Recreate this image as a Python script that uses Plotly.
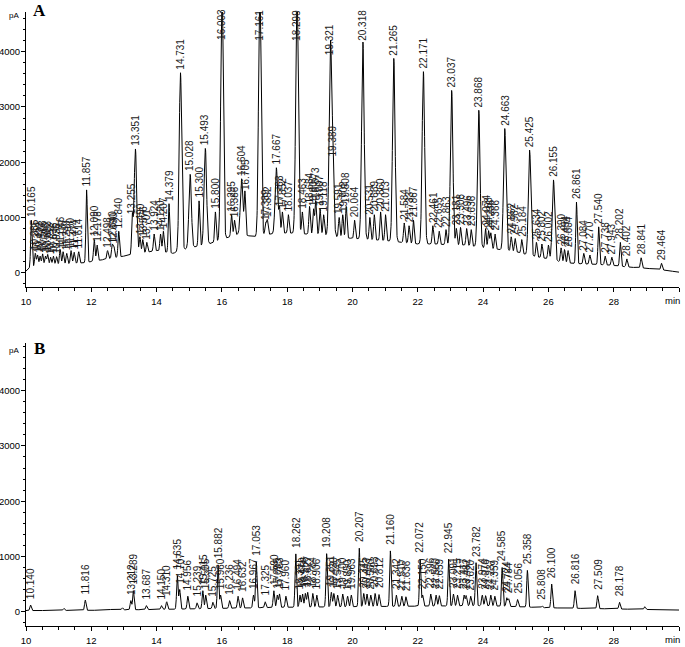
import numpy as np
import plotly.graph_objects as go

# ---------------- data ----------------
# Panel A: labelled peaks (retention time, apex height in pA)
A_times = [10.165, 10.285, 10.354, 10.432, 10.508, 10.596, 10.663, 10.752, 10.838, 10.936,
           11.046, 11.137, 11.249, 11.380, 11.474, 11.614, 11.857, 12.090, 12.178, 12.498,
           12.640, 12.690, 12.840, 13.255, 13.351, 13.490, 13.576, 13.701, 13.924, 14.120,
           14.207, 14.379, 14.731, 15.028, 15.300, 15.493, 15.800, 16.003, 16.295, 16.386,
           16.604, 16.705, 17.161, 17.339, 17.392, 17.667, 17.763, 17.852, 18.037, 18.299,
           18.463, 18.684, 18.807, 18.873, 19.007, 19.118, 19.321, 19.389, 19.591, 19.702,
           19.808, 20.064, 20.318, 20.531, 20.669, 20.860, 21.013, 21.265, 21.584, 21.733,
           21.867, 22.171, 22.461, 22.655, 22.863, 23.037, 23.181, 23.308, 23.496, 23.636,
           23.868, 24.074, 24.168, 24.236, 24.366, 24.663, 24.862, 24.982, 25.184, 25.425,
           25.634, 25.802, 26.002, 26.155, 26.390, 26.494, 26.604, 26.861, 27.084, 27.270,
           27.540, 27.738, 27.943, 28.202, 28.402, 28.841, 29.464]
A_heights = [950, 350, 320, 300, 340, 300, 330, 280, 300, 290,
             420, 380, 350, 400, 370, 380, 1500, 600, 500, 400,
             500, 480, 750, 1000, 2240, 650, 600, 550, 700, 700,
             750, 1250, 3620, 1780, 1300, 2250, 1100, 5200, 1050, 950,
             1700, 1450, 5200, 900, 950, 1900, 1150, 1100, 1050, 5200,
             1100, 1200, 1150, 1300, 1150, 1050, 3880, 2050, 1000, 1050,
             1200, 950, 4180, 1000, 1050, 1100, 1050, 3880, 900, 850,
             950, 3640, 850, 750, 780, 3300, 800, 820, 800, 780,
             2940, 800, 760, 720, 700, 2610, 650, 620, 600, 2220,
             550, 520, 500, 1680, 450, 420, 400, 1280, 350, 320,
             830, 300, 280, 550, 250, 270, 170]
# Panel A: baseline hump (time, pA)
A_base_t = [10.0, 10.15, 10.5, 11.0, 11.5, 11.8, 12.0, 12.5, 13.0, 13.5, 14.0, 14.5, 15.0,
            15.5, 16.0, 16.5, 17.0, 17.5, 18.0, 18.5, 19.0, 19.5, 20.0, 20.5, 21.0, 21.5,
            22.0, 22.5, 23.0, 23.5, 24.0, 24.5, 25.0, 25.5, 26.0, 26.5, 27.0, 27.5, 28.0,
            28.5, 29.0, 29.5, 30.0]
A_base_v = [30, 100, 130, 150, 170, 180, 200, 250, 300, 350, 400, 350, 450,
            500, 600, 700, 650, 700, 720, 700, 700, 650, 620, 600, 580, 550,
            520, 520, 500, 500, 450, 420, 380, 300, 250, 180, 160, 150, 130,
            100, 80, 50, 10]

# Panel B: labelled peaks
B_times = [10.140, 11.816, 13.212, 13.289, 13.687, 14.150, 14.310, 14.635, 14.707, 14.956,
           15.239, 15.415, 15.505, 15.725, 15.882, 15.960, 16.236, 16.494, 16.632, 16.967,
           17.053, 17.325, 17.590, 17.695, 17.763, 17.960, 18.262, 18.391, 18.470, 18.556,
           18.627, 18.784, 18.906, 19.208, 19.351, 19.430, 19.545, 19.700, 19.850, 19.963,
           20.207, 20.345, 20.443, 20.560, 20.693, 20.812, 21.160, 21.342, 21.510, 21.636,
           22.072, 22.150, 22.396, 22.560, 22.659, 22.945, 23.091, 23.215, 23.417, 23.482,
           23.620, 23.782, 23.974, 24.076, 24.237, 24.359, 24.585, 24.724, 24.784, 25.056,
           25.358, 25.808, 26.100, 26.816, 27.509, 28.178]
B_heights = [120, 210, 200, 380, 110, 110, 180, 650, 400, 280,
             160, 380, 300, 170, 850, 300, 200, 280, 250, 300,
             900, 180, 380, 300, 320, 280, 1050, 300, 320, 330,
             350, 330, 300, 1050, 350, 330, 300, 320, 280, 300,
             1150, 330, 320, 300, 330, 310, 1100, 300, 280, 270,
             950, 300, 320, 300, 290, 950, 320, 300, 300, 290,
             280, 890, 300, 290, 300, 280, 800, 250, 230, 220,
             750, 100, 500, 380, 290, 170]
# Panel B: small unlabelled bumps
B_minor_t = [11.16, 12.60, 12.95, 26.45, 28.95, 29.60]
B_minor_h = [60, 40, 70, 40, 90, 30]
# Panel B: baseline
B_base_t = [10.0, 12.0, 14.0, 16.0, 18.0, 20.0, 22.0, 24.0, 25.0, 26.0, 27.0, 28.0, 29.0, 30.0]
B_base_v = [20, 25, 40, 60, 80, 90, 100, 110, 90, 70, 60, 50, 40, 30]

x_ticks = [10, 12, 14, 16, 18, 20, 22, 24, 26, 28, 30]
x_ticktext = ["10", "12", "14", "16", "18", "20", "22", "24", "26", "28", ""]
x_unit = "min"
y_ticks = [0, 1000, 2000, 3000, 4000]

# ---------------- build traces ----------------
t = np.arange(10.0, 30.0001, 0.004)


def trace_from(peaks_t, peaks_h, base_t, base_v, extra_t=(), extra_h=()):
    base = np.interp(t, base_t, base_v)
    y = base.copy()
    for pt, ph in list(zip(peaks_t, peaks_h)) + list(zip(extra_t, extra_h)):
        b = np.interp(pt, base_t, base_v)
        amp = max(ph - b, 0)
        sig = 0.038 if ph > 1500 else 0.022
        y += amp * np.exp(-0.5 * ((t - pt) / sig) ** 2)
    return y


yA = trace_from(A_times, A_heights, A_base_t, A_base_v)
yB = trace_from(B_times, B_heights, B_base_t, B_base_v, B_minor_t, B_minor_h)

fig = go.Figure()
fig.add_trace(go.Scatter(x=t, y=yA, mode="lines", line=dict(color="black", width=1),
                         xaxis="x", yaxis="y", hoverinfo="skip", showlegend=False))
fig.add_trace(go.Scatter(x=t, y=yB, mode="lines", line=dict(color="black", width=1),
                         xaxis="x2", yaxis="y2", hoverinfo="skip", showlegend=False))

label_font = dict(family="Liberation Sans, Arial, sans-serif", size=10, color="#1a1a1a")
ann = []
for pt, ph in zip(A_times, A_heights):
    ann.append(dict(x=pt, y=min(ph, 4150), xref="x", yref="y", text=f"{pt:.3f}",
                    textangle=-90, showarrow=False, xanchor="center", yanchor="bottom",
                    yshift=1, font=label_font))
for pt, ph in zip(B_times, B_heights):
    ann.append(dict(x=pt, y=ph, xref="x2", yref="y2", text=f"{pt:.3f}",
                    textangle=-90, showarrow=False, xanchor="center", yanchor="bottom",
                    yshift=4, font=label_font))

letter_font = dict(family="Liberation Serif, Times New Roman, serif", size=17, color="black")
unit_font = dict(family="Liberation Sans, Arial, sans-serif", size=8, color="black")
tick_font = dict(family="Liberation Sans, Arial, sans-serif", size=9.5, color="black")

# panel letters, units
ann.append(dict(x=0.021, y=1.0024, xref="paper", yref="paper", text="<b>A</b>", showarrow=False,
                xanchor="center", yanchor="middle", font=letter_font))
ann.append(dict(x=0.021, y=0.4519, xref="paper", yref="paper", text="<b>B</b>", showarrow=False,
                xanchor="center", yanchor="middle", font=letter_font))
ann.append(dict(x=-0.0184, y=0.9951, xref="paper", yref="paper", text="pA", showarrow=False,
                xanchor="center", yanchor="middle", font=unit_font))
ann.append(dict(x=-0.0184, y=0.4479, xref="paper", yref="paper", text="pA", showarrow=False,
                xanchor="center", yanchor="middle", font=unit_font))
ann.append(dict(x=0.9908, y=0.5309, xref="paper", yref="paper", text=x_unit, showarrow=False,
                xanchor="center", yanchor="middle", font=tick_font))
ann.append(dict(x=0.9908, y=-0.0228, xref="paper", yref="paper", text=x_unit, showarrow=False,
                xanchor="center", yanchor="middle", font=tick_font))

xaxis_common = dict(range=[10, 30], tickvals=x_ticks, ticktext=x_ticktext, showline=True,
                    linecolor="black", linewidth=1, ticks="outside", ticklen=4, tickcolor="black",
                    showgrid=False, zeroline=False, tickfont=tick_font, ticklabelstandoff=2,
                    automargin=False,
                    minor=dict(dtick=0.5, tick0=10, ticks="outside", ticklen=3, tickcolor="black"))
yaxis_common = dict(tickvals=y_ticks, showline=True, linecolor="black", linewidth=1,
                    ticks="outside", ticklen=4, tickcolor="black", showgrid=False, zeroline=False,
                    tickfont=tick_font, automargin=False, ticklabelstandoff=-1,
                    minor=dict(dtick=200, tick0=0, ticks="outside", ticklen=2, tickcolor="black"))

fig.update_layout(
    width=685, height=647,
    margin=dict(l=26, r=6, t=12, b=21),
    paper_bgcolor="white", plot_bgcolor="white",
    showlegend=False,
    xaxis=dict(domain=[0, 1], anchor="y", **xaxis_common),
    yaxis=dict(domain=[0.5521, 1.0], anchor="x", range=[-259, 4719], **yaxis_common),
    xaxis2=dict(domain=[0, 1], anchor="y2", **xaxis_common),
    yaxis2=dict(domain=[0, 0.4609], anchor="x2", range=[-259, 4863], **yaxis_common),
    annotations=ann,
)

fig.write_html("out.html", config={"displayModeBar": False},
               post_script="document.body.style.margin='0px'; document.body.style.overflow='hidden';")
